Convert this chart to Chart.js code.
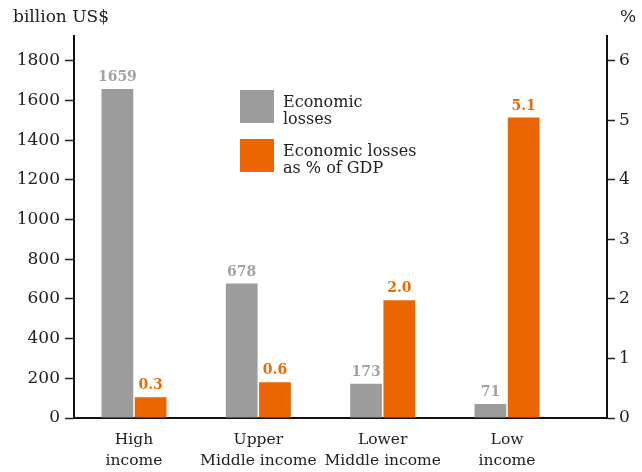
<!DOCTYPE html>
<html>
<head>
<meta charset="utf-8">
<script src="https://cdn.jsdelivr.net/npm/chart.js@4.4.1/dist/chart.umd.min.js"></script>
<style>
  html, body { margin: 0; padding: 0; background: #fff; }
</style>
</head>
<body>
<canvas id="chart" width="642" height="472"></canvas>
<script>
const groups = [['High', 'income'], ['Upper', 'Middle income'], ['Lower', 'Middle income'], ['Low', 'income']];
const lossValues = [1659, 678, 173, 71];          // billion US$
const lossLabels = ['1659', '678', '173', '71'];
const gdpShare = [0.35, 0.6, 1.98, 5.05];         // % of GDP (bar heights as drawn)
const gdpLabels = ['0.3', '0.6', '2.0', '5.1'];
const legendText = [['Economic', 'losses'], ['Economic losses', 'as % of GDP']];

const FONT = "'DejaVu Serif'";
const GREY = '#9c9c9c';
const ORANGE = '#eb6600';

const valueLabels = {
  id: 'valueLabels',
  afterDatasetsDraw(chart) {
    const ctx = chart.ctx;
    const texts = [lossLabels, gdpLabels];
    const colors = ['#a3a3a3', '#ec6a00'];
    ctx.save();
    ctx.font = 'bold 14px ' + FONT;
    ctx.textAlign = 'center';
    ctx.textBaseline = 'alphabetic';
    chart.data.datasets.forEach((ds, d) => {
      ctx.fillStyle = colors[d];
      chart.getDatasetMeta(d).data.forEach((bar, i) => {
        ctx.fillText(texts[d][i], bar.x, bar.y - 8);
      });
    });
    ctx.restore();
  }
};

const extras = {
  id: 'extras',
  afterDraw(chart) {
    const ctx = chart.ctx;
    ctx.save();
    ctx.fillStyle = '#222';
    ctx.font = '17px ' + FONT;
    ctx.textBaseline = 'alphabetic';
    ctx.textAlign = 'left';
    ctx.fillText('billion US$', 13, 22);
    ctx.fillText('%', 620, 22);

    // legend
    const fills = [GREY, ORANGE];
    const tops = [90, 139];
    ctx.font = '16px ' + FONT;
    legendText.forEach((lines, k) => {
      ctx.fillStyle = fills[k];
      ctx.fillRect(240, tops[k], 34, 33);
      ctx.fillStyle = '#222';
      lines.forEach((t, j) => ctx.fillText(t, 283, tops[k] + 17 + j * 16.5));
    });
    ctx.restore();
  }
};

new Chart(document.getElementById('chart'), {
  type: 'bar',
  data: {
    datasets: [{
      label: 'Economic losses',
      data: lossValues.map((v, i) => ({ x: i, y: v })),
      backgroundColor: GREY,
      yAxisID: 'y'
    }, {
      label: 'Economic losses as % of GDP',
      data: gdpShare.map((v, i) => ({ x: i, y: v })),
      backgroundColor: ORANGE,
      yAxisID: 'y2'
    }]
  },
  options: {
    responsive: false,
    animation: false,
    layout: { padding: { top: 36, left: 0, right: 0, bottom: 0 } },
    datasets: { bar: { categoryPercentage: 0.535, barPercentage: 0.955 } },
    plugins: { legend: { display: false }, tooltip: { enabled: false } },
    scales: {
      x: {
        type: 'linear',
        offset: false,
        min: -0.4826,
        max: 3.804,
        afterFit: (s) => { s.height = 54; },
        border: { display: true, color: '#111', width: 2 },
        grid: { display: true, drawOnChartArea: false, drawTicks: false, tickLength: 0, offset: false },
        ticks: {
          stepSize: 1,
          includeBounds: false,
          autoSkip: false,
          maxRotation: 0,
          padding: 12,
          color: '#222',
          font: { family: FONT, size: 15.5, lineHeight: 1.32 },
          callback: (v) => Number.isInteger(v) && groups[v] ? groups[v] : ''
        }
      },
      y: {
        position: 'left',
        min: 0,
        max: 1926,
        afterFit: (s) => { s.width = 74; },
        border: { display: true, color: '#111', width: 2 },
        grid: { drawOnChartArea: false, tickLength: 9, color: '#222', tickWidth: 1.5 },
        ticks: {
          stepSize: 200,
          includeBounds: false,
          padding: 5,
          color: '#222',
          font: { family: FONT, size: 17 },
          callback: (v) => String(v)
        }
      },
      y2: {
        position: 'right',
        min: 0,
        max: 6.42,
        afterFit: (s) => { s.width = 35; },
        border: { display: true, color: '#111', width: 2 },
        grid: { drawOnChartArea: false, tickLength: 8, color: '#222', tickWidth: 1.5 },
        ticks: {
          stepSize: 1,
          includeBounds: false,
          padding: 4,
          color: '#222',
          font: { family: FONT, size: 17 },
          callback: (v) => String(v)
        }
      }
    }
  },
  plugins: [valueLabels, extras]
});
</script>
</body>
</html>
